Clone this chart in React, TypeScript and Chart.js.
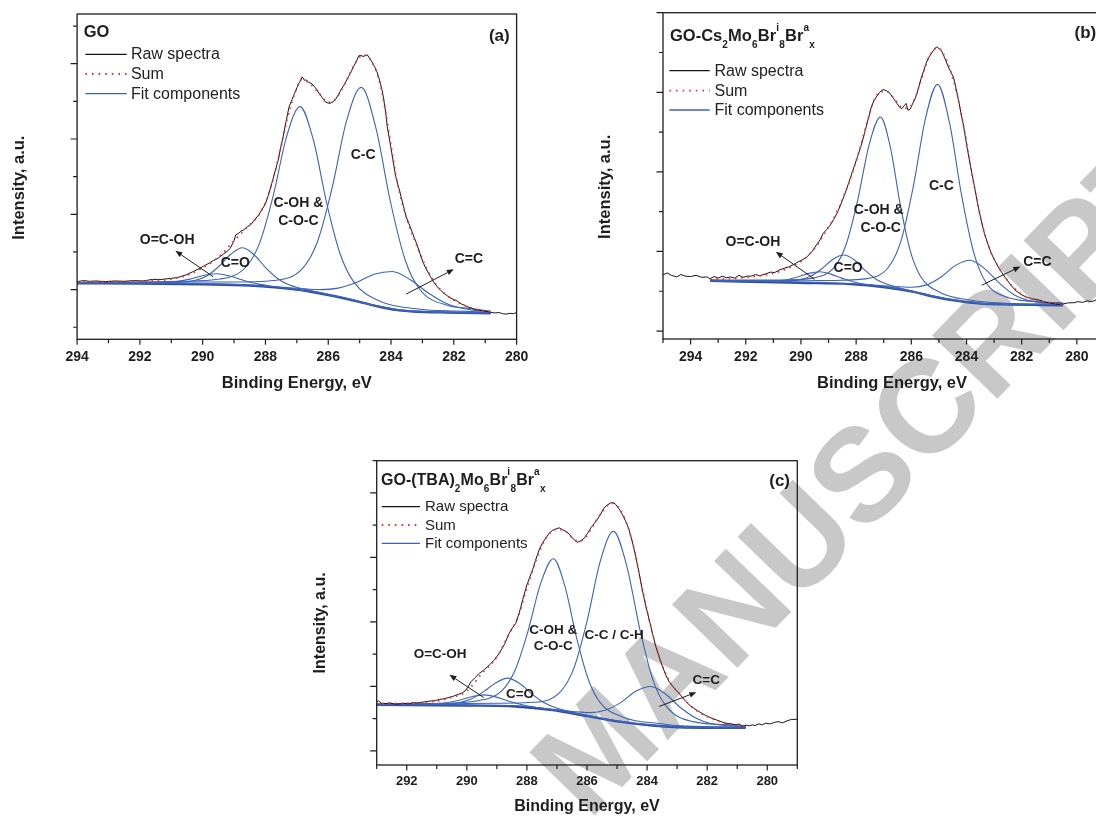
import React, { useEffect, useRef } from 'react';
import { Chart, registerables } from 'chart.js';
Chart.register(...registerables);

const FONT = '"Liberation Sans", Arial, Helvetica, sans-serif';
const INK = '#1e1e1e';
const RAW_C = '#161616';
const SUM_C = '#ff2b2b';
const FIT_C = '#3d62b9';
const BG_C = '#2b4b9e';

type P = [number, number];

// ---------------- Panel (a): GO ----------------
const rawA: P[] = [
  [294.0,1.21],[293.8,1.24],[293.6,1.22],[293.4,1.23],[293.1,1.21],[292.8,1.23],[292.5,1.22],[292.2,1.24],[291.9,1.23],[291.6,1.27],[291.3,1.27],[291.0,1.30],[290.8,1.32],[290.65,1.36],[290.5,1.40],[290.3,1.48],[290.15,1.54],[290.0,1.61],[289.8,1.70],[289.66,1.77],[289.5,1.84],[289.33,1.95],[289.2,2.03],[289.12,2.10],[289.0,2.30],[288.95,2.45],[288.85,2.50],[288.79,2.55],[288.7,2.58],[288.57,2.67],[288.45,2.74],[288.35,2.85],[288.2,3.00],[288.13,3.10],[288.0,3.28],[287.91,3.50],[287.8,3.82],[287.69,4.15],[287.6,4.42],[287.52,4.75],[287.44,5.05],[287.36,5.40],[287.25,5.85],[287.15,6.05],[287.08,6.20],[287.0,6.36],[286.92,6.50],[286.83,6.65],[286.76,6.56],[286.7,6.57],[286.62,6.50],[286.54,6.48],[286.45,6.40],[286.37,6.32],[286.3,6.22],[286.21,6.12],[286.1,5.99],[286.0,5.95],[285.93,5.95],[285.85,5.99],[285.77,6.05],[285.68,6.17],[285.6,6.30],[285.52,6.40],[285.44,6.52],[285.35,6.66],[285.27,6.79],[285.19,6.93],[285.11,7.05],[285.03,7.21],[284.96,7.22],[284.89,7.19],[284.82,7.22],[284.75,7.23],[284.68,7.14],[284.61,7.05],[284.53,6.93],[284.45,6.79],[284.4,6.66],[284.34,6.48],[284.28,6.28],[284.23,6.04],[284.17,5.70],[284.12,5.33],[284.06,5.05],[284.01,4.80],[283.93,4.40],[283.85,4.00],[283.76,3.72],[283.68,3.47],[283.6,3.20],[283.52,2.94],[283.43,2.75],[283.35,2.58],[283.27,2.40],[283.19,2.23],[283.08,1.96],[282.97,1.70],[282.86,1.52],[282.75,1.35],[282.64,1.20],[282.53,1.08],[282.42,0.98],[282.31,0.90],[282.2,0.83],[282.09,0.77],[281.9,0.70],[281.76,0.62],[281.6,0.56],[281.43,0.50],[281.25,0.46],[281.1,0.44],[280.95,0.42],[280.83,0.40],[280.7,0.38],[280.55,0.39],[280.45,0.36],[280.33,0.35],[280.2,0.37],[280.1,0.36],[280.0,0.39],
];
const sumA: P[] = [
  [294.0,1.20],[293.0,1.21],[292.0,1.22],[291.0,1.28],[290.5,1.38],[290.0,1.58],[289.5,1.86],[289.0,2.30],[288.6,2.64],[288.2,3.00],[287.9,3.52],[287.6,4.45],[287.3,5.55],[287.05,6.25],[286.85,6.58],[286.6,6.48],[286.3,6.22],[286.0,5.98],[285.8,6.03],[285.5,6.42],[285.2,6.92],[285.0,7.18],[284.8,7.22],[284.6,7.03],[284.4,6.62],[284.2,5.85],[284.0,4.82],[283.8,3.85],[283.5,2.88],[283.2,2.22],[282.9,1.62],[282.6,1.18],[282.3,0.90],[282.0,0.72],[281.6,0.56],[281.2,0.46],[280.83,0.41],
];
const bgA: P[] = [[294.0,1.17],[292.0,1.16],[290.0,1.14],[288.5,1.11],[287.7,1.06],[286.6,0.95],[285.5,0.77],[284.4,0.55],[283.85,0.46],[283.3,0.42],[282.2,0.39],[280.83,0.37]];
const ccA: P[] = [[294.0,1.19],[292.0,1.19],[290.0,1.20],[289.14,1.20],[287.74,1.24],[286.81,1.57],[286.345,2.27],[285.88,3.69],[285.415,5.49],[284.95,6.37],[284.485,5.30],[284.02,3.34],[283.555,1.80],[283.09,1.01],[282.16,0.57],[281.5,0.50],[280.83,0.43]];
const cohA: P[] = [[294.0,1.19],[292.0,1.20],[290.725,1.22],[289.45,1.28],[288.6,1.62],[288.175,2.26],[287.75,3.50],[287.325,5.07],[286.9,5.86],[286.475,4.98],[286.05,3.30],[285.625,1.96],[285.2,1.22],[284.35,0.69],[283.075,0.48],[281.9,0.43],[280.83,0.40]];
const coA: P[] = [[294.0,1.18],[292.105,1.17],[290.98,1.18],[290.23,1.25],[289.855,1.37],[289.48,1.62],[289.105,1.94],[288.73,2.11],[288.355,1.92],[287.98,1.57],[287.605,1.29],[287.23,1.12],[286.48,0.96],[285.355,0.755],[284.4,0.56],[283.3,0.43],[282.2,0.40],[280.83,0.38]];
const ocohA: P[] = [[294.0,1.17],[291.95,1.17],[291.15,1.18],[290.35,1.29],[289.95,1.38],[289.55,1.42],[289.15,1.36],[288.75,1.26],[288.35,1.17],[287.95,1.11],[287.15,1.01],[286.6,0.95],[285.5,0.77],[284.4,0.55],[283.85,0.46],[283.3,0.42],[282.2,0.39],[280.83,0.37]];
const c2cA: P[] = [[294.0,1.18],[292.0,1.17],[290.5,1.16],[289.135,1.14],[287.41,1.06],[286.26,1.00],[285.685,1.04],[285.11,1.19],[284.535,1.41],[283.96,1.48],[283.385,1.26],[282.81,0.91],[282.235,0.63],[281.66,0.49],[280.83,0.41]];

// ---------------- Panel (b): GO-Cs2Mo6Br ----------------
const rawB: P[] = [
  [295.0,1.41],[294.85,1.46],[294.7,1.40],[294.5,1.36],[294.35,1.42],[294.2,1.38],[294.0,1.37],[293.8,1.40],[293.6,1.35],[293.4,1.36],[293.3,1.31],[293.15,1.37],[293.0,1.33],[292.85,1.38],[292.7,1.34],[292.55,1.36],[292.4,1.33],[292.25,1.40],[292.1,1.35],[291.95,1.38],[291.8,1.38],[291.65,1.42],[291.5,1.39],[291.3,1.43],[291.1,1.48],[290.95,1.47],[290.8,1.53],[290.6,1.58],[290.45,1.61],[290.3,1.66],[290.1,1.74],[289.95,1.79],[289.8,1.85],[289.6,2.00],[289.44,2.16],[289.3,2.30],[289.2,2.45],[289.07,2.55],[288.94,2.66],[288.82,2.80],[288.7,2.95],[288.58,3.14],[288.45,3.37],[288.32,3.62],[288.2,3.87],[288.08,4.12],[287.95,4.38],[287.82,4.66],[287.7,4.96],[287.58,5.28],[287.45,5.63],[287.36,5.78],[287.27,5.88],[287.15,6.00],[287.02,6.07],[286.9,6.04],[286.77,5.97],[286.65,5.85],[286.52,5.72],[286.42,5.62],[286.34,5.59],[286.26,5.66],[286.19,5.72],[286.12,5.55],[286.05,5.57],[285.96,5.70],[285.84,5.88],[285.74,6.10],[285.65,6.34],[285.56,6.52],[285.47,6.72],[285.38,6.86],[285.28,6.97],[285.19,7.06],[285.09,7.14],[285.0,7.10],[284.91,7.05],[284.8,6.88],[284.66,6.64],[284.56,6.50],[284.47,6.38],[284.38,6.10],[284.29,5.80],[284.2,5.48],[284.1,5.13],[283.98,4.62],[283.85,4.13],[283.72,3.66],[283.6,3.21],[283.48,2.82],[283.35,2.45],[283.22,2.18],[283.1,1.95],[282.98,1.78],[282.86,1.62],[282.73,1.48],[282.61,1.36],[282.42,1.18],[282.24,1.03],[282.05,0.93],[281.86,0.86],[281.62,0.81],[281.37,0.78],[281.12,0.72],[280.87,0.69],[280.7,0.67],[280.5,0.68],[280.3,0.71],[280.12,0.71],[279.95,0.74],[279.8,0.72],[279.63,0.76],[279.45,0.74],[279.28,0.79],[279.1,0.77],[278.9,0.78],[278.4,0.80],
];
const sumB: P[] = [
  [293.29,1.30],[292.5,1.32],[291.8,1.36],[291.0,1.45],[290.4,1.60],[289.9,1.80],[289.5,2.08],[289.1,2.50],[288.8,2.85],[288.5,3.30],[288.2,3.85],[287.9,4.50],[287.6,5.25],[287.35,5.80],[287.1,6.02],[286.9,6.02],[286.6,5.82],[286.35,5.62],[286.15,5.60],[285.9,5.80],[285.65,6.30],[285.4,6.82],[285.2,7.05],[285.05,7.12],[284.85,6.98],[284.6,6.58],[284.35,5.98],[284.1,5.13],[283.85,4.13],[283.6,3.22],[283.35,2.47],[283.1,1.96],[282.85,1.62],[282.6,1.35],[282.3,1.10],[282.0,0.92],[281.6,0.80],[281.1,0.72],[280.5,0.67],
];
const bgB: P[] = [[293.29,1.26],[290.06,1.21],[288.2,1.18],[286.95,1.10],[285.96,0.99],[285.09,0.85],[284.34,0.76],[283.48,0.69],[282.61,0.67],[280.5,0.65]];
const ccB: P[] = [[293.29,1.28],[291.0,1.26],[290.06,1.26],[288.965,1.27],[287.66,1.31],[286.79,1.64],[286.355,2.31],[285.92,3.66],[285.485,5.35],[285.05,6.20],[284.615,5.23],[284.18,3.42],[283.745,1.99],[283.31,1.24],[282.44,0.83],[281.135,0.73],[280.5,0.71]];
const cohB: P[] = [[293.29,1.28],[290.81,1.28],[289.58,1.33],[288.76,1.63],[288.35,2.20],[287.94,3.30],[287.53,4.68],[287.12,5.38],[286.76,4.62],[286.40,3.17],[286.04,2.02],[285.68,1.39],[284.96,0.97],[283.88,0.78],[282.61,0.70],[280.5,0.67]];
const coB: P[] = [[293.29,1.27],[292.05,1.25],[290.85,1.25],[290.05,1.29],[289.65,1.38],[289.25,1.56],[288.85,1.80],[288.45,1.91],[288.05,1.78],[287.65,1.51],[287.25,1.29],[286.85,1.17],[286.05,1.02],[284.85,0.83],[284.34,0.77],[283.48,0.70],[282.61,0.68],[280.5,0.66]];
const ocohB: P[] = [[293.29,1.26],[291.72,1.25],[290.92,1.25],[290.12,1.36],[289.72,1.45],[289.32,1.49],[288.92,1.43],[288.52,1.33],[288.12,1.24],[287.72,1.18],[286.92,1.11],[285.96,0.99],[285.09,0.85],[284.34,0.76],[283.48,0.69],[282.61,0.67],[280.5,0.65]];
const c2cB: P[] = [[293.29,1.27],[291.0,1.24],[288.595,1.20],[287.02,1.14],[285.97,1.10],[285.445,1.16],[284.92,1.36],[284.395,1.65],[283.87,1.78],[283.345,1.57],[282.82,1.21],[282.295,0.92],[281.77,0.77],[280.72,0.69],[280.5,0.68]];

// ---------------- Panel (c): GO-(TBA)2Mo6Br ----------------
const rawC: P[] = [
  [293.02,1.50],[292.95,1.56],[292.85,1.48],[292.7,1.47],[292.55,1.49],[292.4,1.45],[292.24,1.46],[292.1,1.48],[291.95,1.46],[291.8,1.50],[291.65,1.49],[291.5,1.51],[291.36,1.53],[291.2,1.55],[291.05,1.56],[290.91,1.60],[290.75,1.62],[290.6,1.66],[290.47,1.69],[290.3,1.75],[290.15,1.80],[290.03,1.89],[289.95,2.00],[289.86,2.15],[289.72,2.28],[289.58,2.41],[289.42,2.52],[289.25,2.67],[289.08,2.82],[288.92,3.03],[288.75,3.30],[288.59,3.65],[288.48,3.82],[288.37,3.96],[288.25,4.30],[288.14,4.69],[288.0,5.15],[287.81,5.62],[287.7,5.95],[287.59,6.24],[287.48,6.45],[287.37,6.60],[287.26,6.75],[287.15,6.84],[287.04,6.88],[286.93,6.92],[286.82,6.86],[286.70,6.81],[286.59,6.72],[286.48,6.60],[286.40,6.52],[286.32,6.47],[286.2,6.52],[286.09,6.60],[285.98,6.75],[285.87,6.92],[285.76,7.05],[285.65,7.19],[285.54,7.35],[285.43,7.54],[285.32,7.63],[285.21,7.69],[285.12,7.70],[285.04,7.64],[284.93,7.50],[284.82,7.33],[284.71,7.12],[284.60,6.86],[284.49,6.48],[284.38,6.04],[284.27,5.53],[284.16,5.00],[284.05,4.52],[283.93,4.07],[283.82,3.64],[283.71,3.24],[283.6,2.92],[283.49,2.62],[283.38,2.36],[283.27,2.15],[283.1,1.95],[282.94,1.79],[282.77,1.60],[282.6,1.43],[282.44,1.32],[282.27,1.22],[282.05,1.10],[281.83,1.01],[281.6,0.93],[281.39,0.86],[281.2,0.84],[281.05,0.81],[280.94,0.84],[280.83,0.76],[280.7,0.80],[280.6,0.78],[280.5,0.81],[280.4,0.79],[280.28,0.84],[280.17,0.81],[280.06,0.86],[279.9,0.84],[279.75,0.89],[279.61,0.91],[279.5,0.87],[279.35,0.93],[279.2,0.98],[279.0,0.98],
];
const sumC: P[] = [
  [293.02,1.47],[292.0,1.48],[291.0,1.55],[290.5,1.66],[290.0,1.86],[289.5,2.40],[289.0,2.92],[288.6,3.62],[288.3,4.15],[288.0,5.05],[287.7,5.90],[287.4,6.55],[287.15,6.82],[286.95,6.88],[286.7,6.80],[286.45,6.58],[286.25,6.50],[286.05,6.62],[285.8,6.98],[285.55,7.35],[285.3,7.62],[285.12,7.68],[284.95,7.55],[284.7,7.10],[284.45,6.35],[284.2,5.20],[283.95,4.15],[283.7,3.22],[283.45,2.55],[283.2,2.08],[282.9,1.75],[282.6,1.44],[282.3,1.22],[282.0,1.07],[281.6,0.92],[281.2,0.82],[280.72,0.76],
];
const bgC: P[] = [[293.02,1.43],[290.03,1.41],[288.37,1.38],[287.15,1.27],[286.04,1.09],[284.93,0.91],[283.82,0.79],[282.71,0.73],[280.72,0.72]];
const ccC: P[] = [[293.02,1.45],[291.0,1.45],[290.03,1.47],[289.08,1.48],[287.76,1.51],[286.88,1.84],[286.44,2.56],[286.0,4.02],[285.56,5.88],[285.12,6.81],[284.68,5.75],[284.24,3.77],[283.80,2.19],[283.36,1.38],[282.48,0.91],[281.16,0.81],[280.72,0.79]];
const cohC: P[] = [[293.02,1.46],[290.945,1.48],[289.67,1.55],[288.82,1.88],[288.395,2.50],[287.97,3.69],[287.545,5.19],[287.12,5.96],[286.73,5.09],[286.34,3.48],[285.95,2.20],[285.56,1.50],[284.78,1.04],[283.61,0.85],[282.71,0.77],[280.72,0.74]];
const coC: P[] = [[293.02,1.44],[292.24,1.44],[291.04,1.44],[290.24,1.50],[289.84,1.62],[289.44,1.84],[289.04,2.11],[288.64,2.26],[288.24,2.09],[287.84,1.77],[287.44,1.50],[287.04,1.34],[286.24,1.15],[285.04,0.94],[283.82,0.80],[282.71,0.74],[280.72,0.72]];
const ocohC: P[] = [[293.02,1.43],[291.82,1.43],[291.02,1.45],[290.22,1.58],[289.82,1.69],[289.42,1.74],[289.02,1.67],[288.62,1.55],[288.22,1.45],[287.82,1.37],[287.02,1.26],[286.04,1.09],[284.93,0.91],[283.82,0.79],[282.71,0.73],[280.72,0.72]];
const c2cC: P[] = [[293.02,1.44],[290.03,1.42],[288.38,1.40],[286.88,1.26],[285.88,1.19],[285.38,1.27],[284.88,1.50],[284.38,1.85],[283.88,2.00],[283.38,1.76],[282.88,1.34],[282.38,1.02],[281.88,0.85],[280.88,0.76],[280.72,0.75]];

// ---------------- tick values ----------------
const X_TICKS_A = [280, 282, 284, 286, 288, 290, 292, 294];
const X_MINOR_A = [281, 283, 285, 287, 289, 291, 293];
const X_TICKS_B = [280, 282, 284, 286, 288, 290, 292, 294];
const X_MINOR_B = [279, 281, 283, 285, 287, 289, 291, 293, 295];
const X_TICKS_C = [280, 282, 284, 286, 288, 290, 292];
const X_MINOR_C = [279, 281, 283, 285, 287, 289, 291, 293];
const Y_TICKS_A = [0, 1, 2, 3, 4, 5, 6, 7, 8];
const Y_MAJOR_A = [1, 3, 5, 7];
const Y_TICKS_B = [0, 1, 2, 3, 4, 5, 6, 7, 8];
const Y_MAJOR_B = [0, 2, 4, 6, 8];
const Y_TICKS_C = [0, 1, 2, 3, 4, 5, 6, 7, 8, 9];
const Y_MAJOR_C = [0, 2, 4, 6, 8];

// ---------------- text ----------------
const LEGEND_TEXT = ['Raw spectra', 'Sum', 'Fit components'];
const X_TITLE = 'Binding Energy, eV';
const Y_TITLE = 'Intensity, a.u.';
const WATERMARK = 'MANUSCRIPT';
const TITLE_A: [string, string][] = [['GO', 'n']];
const TITLE_B: [string, string][] = [['GO-Cs', 'n'], ['2', 'sub'], ['Mo', 'n'], ['6', 'sub'], ['Br', 'n'], ['i', 'sup'], ['8', 'sub'], ['Br', 'n'], ['a', 'sup'], ['x', 'sub']];
const TITLE_C: [string, string][] = [['GO-(TBA)', 'n'], ['2', 'sub'], ['Mo', 'n'], ['6', 'sub'], ['Br', 'n'], ['i', 'sup'], ['8', 'sub'], ['Br', 'n'], ['a', 'sup'], ['x', 'sub']];

// annotation labels: [text, eV, intensity]
const LABELS_A: [string, number, number][] = [['C-C', 284.89, 4.57], ['C-OH &', 286.95, 3.30], ['C-O-C', 286.95, 2.82], ['O=C-OH', 291.13, 2.32], ['C=O', 288.96, 1.70], ['C=C', 281.52, 1.81]];
const LABELS_B: [string, number, number][] = [['O=C-OH', 291.74, 2.23], ['C-OH &', 287.18, 3.04], ['C-O-C', 287.11, 2.58], ['C-C', 284.91, 3.64], ['C=O', 288.29, 1.59], ['C=C', 281.43, 1.72]];
const LABELS_C: [string, number, number][] = [['O=C-OH', 290.89, 3.0], ['C-OH &', 287.12, 3.74], ['C-O-C', 287.12, 3.26], ['C-C / C-H', 285.10, 3.60], ['C=O', 288.23, 1.76], ['C=C', 282.03, 2.18]];
// arrows: [tailEV, tailI, headEV, headI]
const ARROWS_A: [number, number, number, number][] = [[289.66, 1.34, 290.87, 2.03], [283.52, 0.88, 282.0, 1.54]];
const ARROWS_B: [number, number, number, number][] = [[289.50, 1.30, 290.91, 1.99], [283.45, 1.15, 282.05, 1.62]];
const ARROWS_C: [number, number, number, number][] = [[289.44, 1.66, 290.58, 2.36], [283.60, 1.38, 282.36, 1.82]];

interface Panel {
  box: [number, number, number, number];
  pad: { left: number; right: number; top: number };
  xAxisH: number;
  xMin: number; xMax: number; xTicks: number[]; xMinor: number[];
  yMin: number; yMax: number; yTicks: number[]; yMajor: number[];
  raw: P[]; sum: P[]; bg: P[]; comps: P[][];
  title: [string, string][]; titleDx: number; titleBase: number; titleSize: number;
  letter: string; letterDx: number; letterBase: number;
  leg: { x0: number; x1: number; tx: number; rows: number[]; size: number };
  labels: [string, number, number][]; labelSize: number;
  arrows: [number, number, number, number][];
  tickSize: number; tickPad: number;
  xTitleDy: number; axisTitleSize: number; yTitleDx: number; yTitleDy: number;
}

const PANELS: Panel[] = [
  {
    box: [0, 0, 560, 400], pad: { left: 77.1, right: 43.4, top: 14 }, xAxisH: 60.7,
    xMin: 280, xMax: 294, xTicks: X_TICKS_A, xMinor: X_MINOR_A,
    yMin: -0.32, yMax: 8.32, yTicks: Y_TICKS_A, yMajor: Y_MAJOR_A,
    raw: rawA, sum: sumA, bg: bgA, comps: [ocohA, coA, cohA, ccA, c2cA],
    title: TITLE_A, titleDx: 6.6, titleBase: 22.7, titleSize: 16.5,
    letter: '(a)', letterDx: 6.9, letterBase: 27.4,
    leg: { x0: 8.3, x1: 49.6, tx: 53.8, rows: [40.3, 60, 79.7], size: 16 },
    labels: LABELS_A, labelSize: 14, arrows: ARROWS_A,
    tickSize: 14, tickPad: 9.6, xTitleDy: 44, axisTitleSize: 16.5, yTitleDx: 58, yTitleDy: 11,
  },
  {
    box: [560, 0, 580, 400], pad: { left: 103, right: 19, top: 12.7 }, xAxisH: 61,
    xMin: 278.4, xMax: 295, xTicks: X_TICKS_B, xMinor: X_MINOR_B,
    yMin: -0.2, yMax: 8.0, yTicks: Y_TICKS_B, yMajor: Y_MAJOR_B,
    raw: rawB, sum: sumB, bg: bgB, comps: [ocohB, coB, cohB, ccB, c2cB],
    title: TITLE_B, titleDx: 7, titleBase: 28.3, titleSize: 16.5,
    letter: '(b)', letterDx: 24.8, letterBase: 25.3,
    leg: { x0: 6.4, x1: 46.7, tx: 51.5, rows: [58, 78, 97.3], size: 16 },
    labels: LABELS_B, labelSize: 14, arrows: ARROWS_B,
    tickSize: 14, tickPad: 9.3, xTitleDy: 44.3, axisTitleSize: 16.5, yTitleDx: 57.5, yTitleDy: 11,
  },
  {
    box: [300, 440, 520, 376], pad: { left: 76.7, right: 22.7, top: 20.7 }, xAxisH: 51,
    xMin: 279, xMax: 293, xTicks: X_TICKS_C, xMinor: X_MINOR_C,
    yMin: -0.435, yMax: 9.0, yTicks: Y_TICKS_C, yMajor: Y_MAJOR_C,
    raw: rawC, sum: sumC, bg: bgC, comps: [ocohC, coC, cohC, ccC, c2cC],
    title: TITLE_C, titleDx: 4.3, titleBase: 24.3, titleSize: 16,
    letter: '(c)', letterDx: 7.3, letterBase: 25.7,
    leg: { x0: 5, x1: 43.3, tx: 48.3, rows: [46, 64.3, 82.6], size: 15 },
    labels: LABELS_C, labelSize: 13.5, arrows: ARROWS_C,
    tickSize: 13, tickPad: 8.6, xTitleDy: 41.7, axisTitleSize: 16, yTitleDx: 56, yTitleDy: 10,
  },
];

const toXY = (a: P[]) => a.map(([x, y]) => ({ x, y }));

function makeDecor(p: Panel) {
  return {
    id: 'decor',
    afterDraw(chart: any) {
      const { ctx, chartArea: ca, scales } = chart;
      const xs = scales.x;
      const ys = scales.y;
      ctx.save();
      ctx.strokeStyle = INK;
      ctx.fillStyle = INK;
      // frame
      ctx.lineWidth = 1.3;
      ctx.setLineDash([]);
      ctx.strokeRect(ca.left, ca.top, ca.right - ca.left, ca.bottom - ca.top);
      // ticks
      ctx.lineWidth = 1.2;
      ctx.beginPath();
      for (const v of p.yTicks) {
        const py = ys.getPixelForValue(v);
        const len = p.yMajor.includes(v) ? 6.5 : 4;
        ctx.moveTo(ca.left - len, py);
        ctx.lineTo(ca.left, py);
      }
      for (const v of p.xTicks) {
        const px = xs.getPixelForValue(v);
        ctx.moveTo(px, ca.bottom);
        ctx.lineTo(px, ca.bottom + 5.5);
      }
      for (const v of p.xMinor) {
        const px = xs.getPixelForValue(v);
        ctx.moveTo(px, ca.bottom);
        ctx.lineTo(px, ca.bottom + 4);
      }
      ctx.stroke();

      // axis titles
      ctx.font = `bold ${p.axisTitleSize}px ${FONT}`;
      ctx.textAlign = 'center';
      ctx.textBaseline = 'middle';
      ctx.fillText(X_TITLE, (ca.left + ca.right) / 2, ca.bottom + p.xTitleDy);
      ctx.save();
      ctx.translate(ca.left - p.yTitleDx, (ca.top + ca.bottom) / 2 + p.yTitleDy);
      ctx.rotate(-Math.PI / 2);
      ctx.fillText(Y_TITLE, 0, 0);
      ctx.restore();

      // panel title with sub/superscripts
      ctx.textAlign = 'left';
      ctx.textBaseline = 'alphabetic';
      let cx = ca.left + p.titleDx;
      const base = ca.top + p.titleBase;
      for (const [t, kind] of p.title) {
        const small = kind !== 'n';
        const fs = small ? 10 : p.titleSize;
        ctx.font = `bold ${fs}px ${FONT}`;
        const dy = kind === 'sub' ? 6.5 : kind === 'sup' ? -10 : 0;
        ctx.fillText(t, cx, base + dy);
        cx += ctx.measureText(t).width + (small ? 0.3 : 0);
      }
      // panel letter
      ctx.font = `bold 17px ${FONT}`;
      ctx.textAlign = 'right';
      ctx.fillText(p.letter, ca.right - p.letterDx, ca.top + p.letterBase);

      // legend
      const styles = [
        { c: RAW_C, w: 1.2, d: [] as number[] },
        { c: SUM_C, w: 1.8, d: [1.6, 5] },
        { c: FIT_C, w: 1.3, d: [] as number[] },
      ];
      ctx.font = `${p.leg.size}px ${FONT}`;
      ctx.textAlign = 'left';
      ctx.textBaseline = 'middle';
      LEGEND_TEXT.forEach((t, i) => {
        const yy = ca.top + p.leg.rows[i];
        const s = styles[i];
        ctx.save();
        ctx.strokeStyle = s.c;
        ctx.lineWidth = s.w;
        ctx.setLineDash(s.d);
        ctx.beginPath();
        ctx.moveTo(ca.left + p.leg.x0, yy);
        ctx.lineTo(ca.left + p.leg.x1, yy);
        ctx.stroke();
        ctx.restore();
        ctx.fillStyle = '#222';
        ctx.fillText(t, ca.left + p.leg.tx, yy + 0.5);
      });

      // peak labels
      ctx.font = `bold ${p.labelSize}px ${FONT}`;
      ctx.textAlign = 'center';
      ctx.textBaseline = 'middle';
      ctx.fillStyle = INK;
      for (const [t, ev, inten] of p.labels) {
        ctx.fillText(t, xs.getPixelForValue(ev), ys.getPixelForValue(inten));
      }
      // arrows
      ctx.lineWidth = 1;
      for (const [e0, i0, e1, i1] of p.arrows) {
        const x0 = xs.getPixelForValue(e0), y0 = ys.getPixelForValue(i0);
        const x1 = xs.getPixelForValue(e1), y1 = ys.getPixelForValue(i1);
        const ang = Math.atan2(y1 - y0, x1 - x0);
        const hl = 7, hw = 2.8;
        const bx = x1 - hl * Math.cos(ang), by = y1 - hl * Math.sin(ang);
        ctx.beginPath();
        ctx.moveTo(x0, y0);
        ctx.lineTo(bx, by);
        ctx.stroke();
        ctx.beginPath();
        ctx.moveTo(x1, y1);
        ctx.lineTo(bx + hw * Math.sin(ang), by - hw * Math.cos(ang));
        ctx.lineTo(bx - hw * Math.sin(ang), by + hw * Math.cos(ang));
        ctx.closePath();
        ctx.fill();
      }
      ctx.restore();
    },
  };
}

function makeConfig(p: Panel): any {
  const line = (data: P[], color: string, width: number, extra: any = {}) => ({
    data: toXY(data), borderColor: color, borderWidth: width, pointRadius: 0, fill: false, ...extra,
  });
  return {
    type: 'line',
    data: {
      datasets: [
        line(p.sum, SUM_C, 1.8, { label: 'Sum', borderDash: [1.6, 4.6], cubicInterpolationMode: 'monotone' }),
        line(p.raw, RAW_C, 1, { label: 'Raw spectra', tension: 0 }),
        ...p.comps.map((c) => line(c, FIT_C, 1.1, { label: 'Fit components', cubicInterpolationMode: 'monotone' })),
        line(p.bg, BG_C, 2.4, { label: 'Background', cubicInterpolationMode: 'monotone' }),
      ],
    },
    options: {
      animation: false,
      responsive: false,
      maintainAspectRatio: false,
      devicePixelRatio: 1,
      events: [],
      layout: { padding: { left: p.pad.left, right: p.pad.right, top: p.pad.top, bottom: 0 } },
      scales: {
        x: {
          type: 'linear', position: 'bottom', reverse: true, min: p.xMin, max: p.xMax,
          grid: { display: false, drawTicks: false },
          border: { display: false },
          afterBuildTicks: (s: any) => { s.ticks = p.xTicks.map((value) => ({ value })); },
          afterFit: (s: any) => { s.height = p.xAxisH; },
          ticks: {
            autoSkip: false, maxRotation: 0, minRotation: 0, padding: p.tickPad, color: INK,
            font: { family: FONT, size: p.tickSize, weight: 'bold' },
            callback: (v: any) => String(v),
          },
        },
        y: { type: 'linear', display: false, min: p.yMin, max: p.yMax },
      },
      plugins: { legend: { display: false }, tooltip: { enabled: false }, title: { display: false } },
    },
    plugins: [makeDecor(p)],
  };
}

export default function App() {
  const refs = useRef<(HTMLCanvasElement | null)[]>([]);
  useEffect(() => {
    const charts = PANELS.map((p, i) => new Chart(refs.current[i] as HTMLCanvasElement, makeConfig(p)));
    return () => charts.forEach((c) => c.destroy());
  }, []);
  return (
    <div style={{ position: 'fixed', left: 0, top: 0, width: 1096, height: 816, overflow: 'hidden', background: '#ffffff' }}>
      <div
        style={{
          position: 'absolute', left: 862, top: 474, transform: 'translate(-50%, -50%) rotate(-46deg)',
          fontFamily: FONT, fontWeight: 700, fontSize: 132, lineHeight: 1, color: '#c8c8c8',
          whiteSpace: 'nowrap', zIndex: 0, userSelect: 'none',
        }}
      >
        {WATERMARK}
      </div>
      {PANELS.map((p, i) => (
        <canvas
          key={i}
          ref={(el) => { refs.current[i] = el; }}
          width={p.box[2]}
          height={p.box[3]}
          style={{ position: 'absolute', left: p.box[0], top: p.box[1], width: p.box[2], height: p.box[3], zIndex: 1 }}
        />
      ))}
    </div>
  );
}
